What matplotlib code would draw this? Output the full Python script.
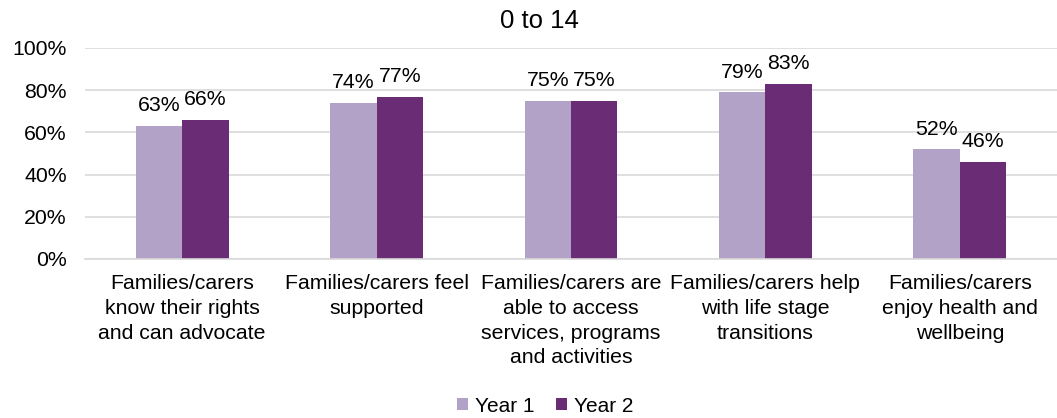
import numpy as np
import matplotlib
matplotlib.use("Agg")
import matplotlib.pyplot as plt
from matplotlib.ticker import PercentFormatter

plt.rcParams["font.family"] = ["Liberation Sans", "DejaVu Sans"]

categories = [
    "Families/carers\nknow their rights\nand can advocate",
    "Families/carers feel\nsupported",
    "Families/carers are\nable to access\nservices, programs\nand activities",
    "Families/carers help\nwith life stage\ntransitions",
    "Families/carers\nenjoy health and\nwellbeing",
]
year1 = [63, 74, 75, 79, 52]
year2 = [66, 77, 75, 83, 46]
series_names = ["Year 1", "Year 2"]
title = "0 to 14"

COL_Y1 = "#B3A2C7"
COL_Y2 = "#6B2C76"
GRID = "#D9D9D9"
FS = 15.3

fig = plt.figure(figsize=(10.57, 4.18), dpi=100, facecolor="white")
ax = fig.add_axes([0.0804, 0.3804, 0.9196, 0.5048])

x = np.arange(len(categories))
w = 0.239
b1 = ax.bar(x - w / 2, year1, w, color=COL_Y1, label=series_names[0], zorder=2)
b2 = ax.bar(x + w / 2, year2, w, color=COL_Y2, label=series_names[1], zorder=2)

# value labels above each bar
for bars, vals in ((b1, year1), (b2, year2)):
    for rect, v in zip(bars, vals):
        ax.annotate(f"{v}%", (rect.get_x() + rect.get_width() / 2, v),
                    xytext=(0, 10.5), textcoords="offset points",
                    ha="center", va="baseline", fontsize=FS, color="#000000")

ax.set_xlim(-0.5, len(categories) - 0.5)
ax.set_ylim(0, 100)
ax.set_yticks(range(0, 101, 20))
ax.yaxis.set_major_formatter(PercentFormatter(decimals=0))
ax.set_xticks(x)
ax.set_xticklabels(categories, fontsize=FS, linespacing=1.38)
ax.tick_params(axis="y", length=0, pad=13, labelsize=FS)
ax.tick_params(axis="x", length=0, pad=11)

ax.yaxis.grid(True, color=GRID, linewidth=1.2, zorder=0)
ax.set_axisbelow(True)
for s in ("top", "right", "left"):
    ax.spines[s].set_visible(False)
ax.spines["bottom"].set_color(GRID)
ax.spines["bottom"].set_linewidth(1.2)

fig.text(0.51, 1 - 21 / 418, title, fontsize=18.5, ha="center", va="center")

fig.legend(loc="center", bbox_to_anchor=(545 / 1057, 1 - 406 / 418), ncol=2,
           frameon=False, fontsize=15, handlelength=0.55, handleheight=0.55,
           handletextpad=0.3, columnspacing=1.05, borderpad=0)

fig.savefig("out.png", dpi=100, facecolor="white")
